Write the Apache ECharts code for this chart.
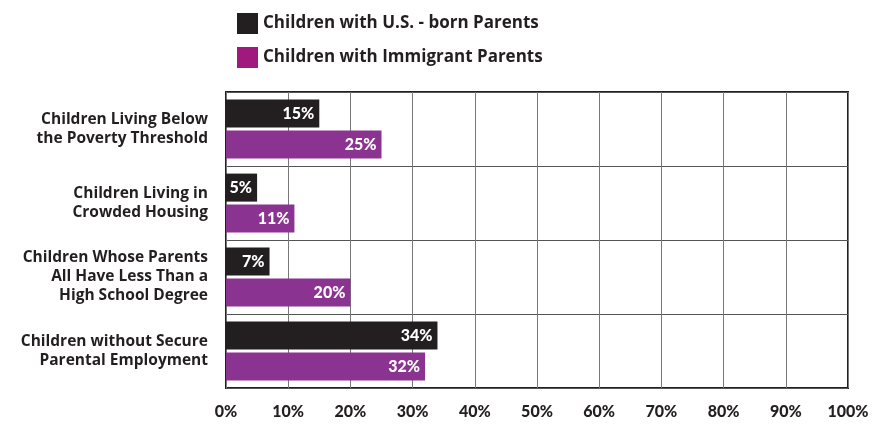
<!DOCTYPE html>
<html>
<head>
<meta charset="utf-8">
<script src="https://cdn.jsdelivr.net/npm/echarts@6/dist/echarts.min.js"></script>
<style>
  html, body { margin: 0; padding: 0; background: #fff; }
  #chart { width: 876px; height: 425px; }
</style>
</head>
<body>
<div id="chart"></div>
<script>
// categories, top to bottom
var categories = [
  'Children Living Below\nthe Poverty Threshold',
  'Children Living in\nCrowded Housing',
  'Children Whose Parents\nAll Have Less Than a\nHigh School Degree',
  'Children without Secure\nParental Employment'
];
var usBorn = [15, 5, 7, 34];
var immigrant = [25, 11, 20, 32];
var seriesNames = ['Children with U.S. - born Parents', 'Children with Immigrant Parents'];

var dark = '#231f20';
var purple = '#8b3391';
var legendPurple = '#a0197f';
var font = 'Open Sans';

var myChart = echarts.init(document.getElementById('chart'));

var barLabel = {
  show: true,
  position: 'insideRight',
  distance: 5,
  color: '#fff',
  fontFamily: 'Lato',
  fontWeight: 900,
  fontSize: 16,
  formatter: '{c}%'
};

var option = {
  animation: false,
  textStyle: { fontFamily: font },
  legend: {
    orient: 'vertical',
    left: 232,
    top: 8,
    itemWidth: 21,
    itemHeight: 21,
    itemGap: 13,
    icon: 'rect',
    textStyle: { color: dark, fontSize: 17, fontWeight: 'bold', fontFamily: font, padding: [0, 0, 0, 0] },
    data: [
      { name: seriesNames[0], itemStyle: { color: dark } },
      { name: seriesNames[1], itemStyle: { color: legendPurple } }
    ]
  },
  grid: {
    left: 226,
    right: 28,
    top: 92,
    bottom: 37,
    show: true,
    borderColor: dark,
    borderWidth: 2,
    containLabel: false
  },
  xAxis: {
    type: 'value',
    min: 0,
    max: 100,
    interval: 10,
    axisLine: { show: false },
    axisTick: { show: false },
    axisLabel: {
      formatter: '{value}%',
      color: dark,
      fontSize: 16,
      fontWeight: 900,
      fontFamily: 'Lato',
      margin: 16
    },
    splitLine: { show: true, lineStyle: { color: '#777', width: 1 } }
  },
  yAxis: {
    type: 'category',
    inverse: true,
    data: categories,
    axisLine: { show: false },
    axisTick: { show: false },
    axisLabel: {
      color: dark,
      fontSize: 15.5,
      fontWeight: 'bold',
      fontFamily: font,
      lineHeight: 19,
      align: 'right',
      margin: 18
    },
    splitLine: { show: true, lineStyle: { color: '#555', width: 1 } }
  },
  series: [
    {
      name: seriesNames[0],
      type: 'bar',
      data: usBorn,
      barWidth: 28,
      barGap: '10%',
      itemStyle: { color: dark },
      label: barLabel
    },
    {
      name: seriesNames[1],
      type: 'bar',
      data: immigrant,
      barWidth: 28,
      barGap: '10%',
      itemStyle: { color: purple },
      label: barLabel
    }
  ]
};

myChart.setOption(option, true);
</script>
</body>
</html>
